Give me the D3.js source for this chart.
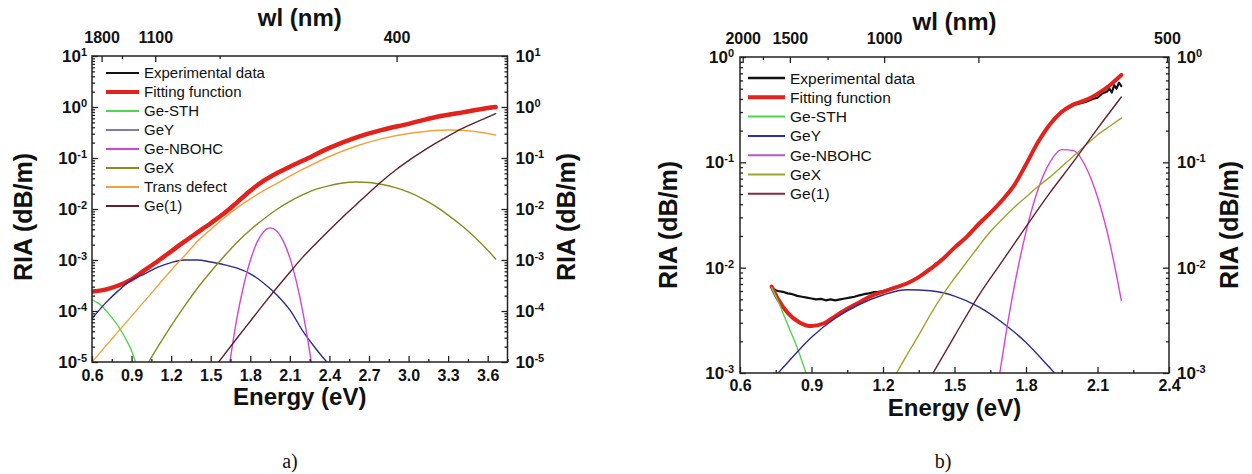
<!DOCTYPE html>
<html><head><meta charset="utf-8">
<script src="https://cdn.jsdelivr.net/npm/d3@7"></script>
<style>
body{margin:0;background:#fff;}
svg{display:block;font-family:"Liberation Sans",Arial,sans-serif;}
</style>
</head><body>
<svg id="c" width="1252" height="474"></svg>
<script>
// ---------------- Panel a) data ----------------
const energyA_exp = [0.6,0.7,0.8,0.9,1.0,1.1,1.2,1.3,1.4,1.5,1.6,1.7,1.8,1.9,2.0,2.1,2.2,2.4,2.6,2.8,3.0,3.2,3.3,3.4,3.45,3.5,3.55,3.6,3.62,3.64,3.66];
const riaA_exp = [2.35e-4,2.60e-4,3.20e-4,4.10e-4,6.40e-4,9.40e-4,1.50e-3,2.27e-3,3.50e-3,5.20e-3,8.20e-3,1.34e-2,2.31e-2,3.52e-2,5.05e-2,6.70e-2,8.95e-2,0.160,0.250,0.360,0.472,0.640,0.700,0.790,0.830,0.890,0.880,0.970,0.920,1.000,0.960];
const energyA_fit = [0.6,0.7,0.8,0.9,1.0,1.1,1.2,1.3,1.4,1.5,1.6,1.7,1.8,1.9,2.0,2.1,2.2,2.4,2.6,2.8,3.0,3.2,3.4,3.6,3.66];
const riaA_fit = [2.40e-4,2.63e-4,3.16e-4,4.17e-4,6.31e-4,9.55e-4,1.48e-3,2.29e-3,3.47e-3,5.25e-3,8.13e-3,1.35e-2,2.29e-2,3.55e-2,5.01e-2,6.76e-2,8.91e-2,0.158,0.251,0.355,0.468,0.631,0.776,0.955,1.0];
const energyA_sth = [0.6,0.65,0.7,0.75,0.8,0.85,0.9,0.93];
const riaA_sth = [1.66e-4,1.41e-4,1.07e-4,7.41e-5,5.01e-5,3.02e-5,1.66e-5,1.00e-5];
const energyA_gey = [0.6,0.7,0.8,0.9,1.0,1.1,1.2,1.3,1.4,1.5,1.6,1.7,1.8,1.9,2.0,2.1,2.2,2.3,2.38];
const riaA_gey = [7.08e-5,1.41e-4,2.51e-4,4.07e-4,5.37e-4,7.24e-4,8.91e-4,1.00e-3,1.00e-3,9.12e-4,8.13e-4,6.92e-4,5.37e-4,3.55e-4,2.09e-4,1.05e-4,3.98e-5,1.78e-5,1.00e-5];
const energyA_nbohc = [1.645,1.70,1.75,1.80,1.85,1.90,1.95,2.00,2.05,2.10,2.15,2.20,2.25,2.262];
const riaA_nbohc = [1.00e-5,7.59e-5,3.16e-4,9.77e-4,2.19e-3,3.55e-3,4.27e-3,3.72e-3,2.34e-3,1.10e-3,3.72e-4,9.12e-5,1.62e-5,1.00e-5];
const energyA_gex = [1.03,1.1,1.2,1.3,1.4,1.5,1.6,1.7,1.8,1.9,2.0,2.1,2.2,2.3,2.4,2.5,2.6,2.7,2.8,2.9,3.0,3.1,3.2,3.3,3.4,3.5,3.6,3.66];
const riaA_gex = [1.00e-5,2.00e-5,5.13e-5,1.23e-4,2.82e-4,5.89e-4,1.17e-3,2.24e-3,3.89e-3,6.31e-3,9.77e-3,1.41e-2,1.91e-2,2.45e-2,2.88e-2,3.24e-2,3.39e-2,3.31e-2,3.02e-2,2.63e-2,2.14e-2,1.62e-2,1.15e-2,7.59e-3,4.79e-3,2.82e-3,1.55e-3,1.05e-3];
const energyA_trans = [0.6,0.7,0.8,0.9,1.0,1.1,1.2,1.3,1.4,1.5,1.6,1.7,1.8,2.0,2.2,2.4,2.6,2.8,3.0,3.2,3.3,3.4,3.5,3.66];
const riaA_trans = [1.00e-5,2.00e-5,3.98e-5,7.94e-5,1.58e-4,3.16e-4,6.31e-4,1.20e-3,2.34e-3,3.98e-3,6.61e-3,1.05e-2,1.58e-2,3.16e-2,6.03e-2,0.107,0.170,0.240,0.302,0.347,0.355,0.351,0.331,0.282];
const energyA_ge1 = [1.56,1.7,1.8,1.9,2.0,2.1,2.2,2.3,2.4,2.5,2.6,2.7,2.8,2.9,3.0,3.1,3.2,3.3,3.4,3.5,3.6,3.66];
const riaA_ge1 = [1.00e-5,2.95e-5,6.31e-5,1.35e-4,2.82e-4,5.75e-4,1.15e-3,2.14e-3,3.89e-3,6.92e-3,1.20e-2,2.09e-2,3.55e-2,5.75e-2,8.91e-2,0.132,0.191,0.269,0.372,0.490,0.631,0.741];

const energyTicksA = [0.6,0.9,1.2,1.5,1.8,2.1,2.4,2.7,3.0,3.3,3.6];
const energyMinorA = [0.75,1.05,1.35,1.65,1.95,2.25,2.55,2.85,3.15,3.45,3.75];
const wlTicksA = [1800,1100,400];
const wlMinorA = [1450,750];
const riaTicksA = [1e-5,1e-4,1e-3,1e-2,1e-1,1,10];
const riaExpA = [-5,-4,-3,-2,-1,0,1];

// ---------------- Panel b) data ----------------
const energyB_exp = [0.733,0.74,0.75,0.76,0.78,0.80,0.82,0.84,0.86,0.88,0.90,0.92,0.94,0.96,0.98,1.00,1.02,1.04,1.06,1.08,1.10,1.12,1.14,1.16,1.18,1.20,1.25,1.30,1.35,1.40,1.45,1.50,1.55,1.60,1.65,1.70,1.75,1.80,1.85,1.90,1.95,2.00,2.03,2.05,2.08,2.10,2.12,2.14,2.15,2.16,2.17,2.18,2.19,2.20];
const riaB_exp = [6.6e-3,6.3e-3,6.1e-3,6.0e-3,5.9e-3,5.7e-3,5.6e-3,5.4e-3,5.3e-3,5.2e-3,5.1e-3,5.0e-3,5.05e-3,4.9e-3,5.0e-3,4.9e-3,5.0e-3,5.1e-3,5.2e-3,5.3e-3,5.45e-3,5.6e-3,5.7e-3,5.85e-3,5.9e-3,6.0e-3,6.5e-3,7.1e-3,8.1e-3,9.9e-3,1.22e-2,1.55e-2,1.93e-2,2.57e-2,3.30e-2,4.35e-2,6.0e-2,9.5e-2,0.155,0.228,0.300,0.350,0.365,0.375,0.40,0.41,0.45,0.47,0.50,0.46,0.54,0.50,0.57,0.53];
const energyB_fit = [0.733,0.76,0.8,0.85,0.9,0.95,1.0,1.05,1.1,1.15,1.2,1.25,1.3,1.35,1.4,1.45,1.5,1.55,1.6,1.65,1.7,1.75,1.8,1.85,1.9,1.95,2.0,2.05,2.1,2.15,2.2];
const riaB_fit = [6.61e-3,5.01e-3,3.72e-3,3.02e-3,2.79e-3,2.95e-3,3.47e-3,4.07e-3,4.68e-3,5.37e-3,5.89e-3,6.46e-3,7.08e-3,8.13e-3,9.77e-3,1.20e-2,1.55e-2,1.95e-2,2.57e-2,3.31e-2,4.37e-2,6.03e-2,9.55e-2,0.155,0.229,0.302,0.355,0.389,0.447,0.537,0.676];
const energyB_sth = [0.733,0.76,0.8,0.84,0.877];
const riaB_sth = [6.46e-3,4.79e-3,2.88e-3,1.74e-3,1.00e-3];
const energyB_gey = [0.76,0.8,0.9,1.0,1.1,1.2,1.3,1.4,1.5,1.6,1.7,1.8,1.9,1.92];
const riaB_gey = [1.00e-3,1.26e-3,2.19e-3,3.31e-3,4.47e-3,5.50e-3,6.17e-3,6.03e-3,5.37e-3,4.27e-3,3.02e-3,1.95e-3,1.12e-3,1.00e-3];
const energyB_nbohc = [1.69,1.72,1.75,1.8,1.85,1.9,1.95,2.0,2.05,2.1,2.15,2.2];
const riaB_nbohc = [1.00e-3,2.69e-3,6.46e-3,2.19e-2,5.50e-2,0.100,0.132,0.129,9.12e-2,4.68e-2,1.78e-2,4.90e-3];
const energyB_gex = [1.257,1.3,1.35,1.4,1.45,1.5,1.55,1.6,1.65,1.7,1.75,1.8,1.85,1.9,1.95,2.0,2.05,2.1,2.15,2.2];
const riaB_gex = [1.00e-3,1.48e-3,2.29e-3,3.63e-3,5.50e-3,7.94e-3,1.12e-2,1.58e-2,2.19e-2,2.88e-2,3.72e-2,4.68e-2,5.89e-2,7.24e-2,9.12e-2,0.115,0.145,0.182,0.219,0.263];
const energyB_ge1 = [1.41,1.5,1.6,1.7,1.8,1.9,2.0,2.1,2.2];
const riaB_ge1 = [1.00e-3,2.24e-3,5.37e-3,1.15e-2,2.45e-2,5.13e-2,0.102,0.209,0.417];

const energyTicksB = [0.6,0.9,1.2,1.5,1.8,2.1,2.4];
const energyMinorB = [0.75,1.05,1.35,1.65,1.95,2.25];
const wlTicksB = [2000,1500,1000,500];
const wlMinorB = [1750,1250];
const wlUnlabeledB = [750];
const riaTicksB = [1e-3,1e-2,1e-1,1];
const riaExpB = [-3,-2,-1,0];

// ---------------- Legends ----------------
const legendA = ["Experimental data","Fitting function","Ge-STH","GeY","Ge-NBOHC","GeX","Trans defect","Ge(1)"];
const legendB = ["Experimental data","Fitting function","Ge-STH","GeY","Ge-NBOHC","GeX","Ge(1)"];

const C = {
  exp:"#111111", fit:"#e3231b", sth:"#4fd64f", gey:"#2b2b90", geyLegA:"#7c7cb0",
  nbohc:"#d445d4", gexA:"#8a8a1e", gexB:"#a2a232", trans:"#f2a23c", ge1:"#62202a"
};

const svg = d3.select("#c");
const FONT = '"Liberation Sans", Arial, sans-serif';

function drawPanel(p){
  const g = svg.append("g");
  const x = d3.scaleLinear().domain(p.eDomain).range([p.x0, p.x1]);
  const y = d3.scaleLog().domain(p.yDomain).range([p.y1, p.y0]);
  const xt = d3.scaleLinear()
    .domain([(p.eDomain[0]-p.wlA)/p.wlC, (p.eDomain[1]-p.wlA)/p.wlC])
    .range([p.x0, p.x1]);

  const cid = "clip" + p.id;
  svg.append("clipPath").attr("id", cid).append("rect")
    .attr("x", p.x0).attr("y", p.y0).attr("width", p.x1 - p.x0).attr("height", p.y1 - p.y0);
  const plot = g.append("g").attr("clip-path", `url(#${cid})`);

  p.series.forEach(s => {
    const line = d3.line().x(d => x(d[0])).y(d => y(d[1]))
      .curve(s.linear ? d3.curveLinear : d3.curveMonotoneX);
    plot.append("path").datum(d3.zip(s.e, s.v))
      .attr("fill","none").attr("stroke", s.color).attr("stroke-width", s.w)
      .attr("stroke-linejoin","round").attr("stroke-linecap","round")
      .attr("d", line);
  });

  const style = sel => {
    sel.select(".domain").remove();
    sel.attr("font-family", FONT).attr("font-size", 16).attr("font-weight","bold");
    sel.selectAll("line").attr("stroke","#222").attr("stroke-width",1.3);
    sel.selectAll("text").attr("fill","#111");
  };

  // bottom axis
  g.append("g").attr("transform",`translate(0,${p.y1})`)
    .call(d3.axisBottom(x).tickValues(p.xMajor).tickFormat(d3.format(".1f")).tickSize(-6).tickSizeOuter(0).tickPadding(p.xPad))
    .call(style);
  g.append("g").attr("transform",`translate(0,${p.y1})`)
    .call(d3.axisBottom(x).tickValues(p.xMinor).tickFormat("").tickSize(-3).tickSizeOuter(0))
    .call(style);
  // top axis (wavelength)
  g.append("g").attr("transform",`translate(0,${p.y0})`)
    .call(d3.axisTop(xt).tickValues(p.wlMajor.map(w => 1/w)).tickFormat(u => String(Math.round(1/u))).tickSize(-6).tickSizeOuter(0).tickPadding(p.topPad))
    .call(style);
  g.append("g").attr("transform",`translate(0,${p.y0})`)
    .call(d3.axisTop(xt).tickValues(p.wlMinor.map(w => 1/w)).tickFormat("").tickSize(-3).tickSizeOuter(0))
    .call(style);
  if (p.wlExtra) {
    g.append("g").attr("transform",`translate(0,${p.y0})`)
      .call(d3.axisTop(xt).tickValues(p.wlExtra.map(w => 1/w)).tickFormat("").tickSize(-6).tickSizeOuter(0))
      .call(style);
  }
  // y axes
  const minor = y.ticks().filter(v => Math.abs(Math.log10(v) - Math.round(Math.log10(v))) > 1e-6);
  [[d3.axisLeft, p.x0], [d3.axisRight, p.x1]].forEach(([ax, xp]) => {
    g.append("g").attr("transform",`translate(${xp},0)`)
      .call(ax(y).tickValues(p.yMajor).tickFormat("").tickSize(-6).tickSizeOuter(0)).call(style);
    g.append("g").attr("transform",`translate(${xp},0)`)
      .call(ax(y).tickValues(minor).tickFormat("").tickSize(-3).tickSizeOuter(0)).call(style);
  });
  // y labels with superscripts
  const labs = (xp, anchor) => {
    const t = g.append("g").attr("font-family", FONT).attr("font-weight","bold").attr("fill","#111");
    p.yMajor.forEach((v, i) => {
      const tx = t.append("text").attr("x", xp).attr("y", y(v) + 6).attr("text-anchor", anchor);
      tx.append("tspan").attr("font-size",17).text("10");
      tx.append("tspan").attr("font-size",11).attr("dy",-6).text(p.yExp[i] < 0 ? "-" + (-p.yExp[i]) : String(p.yExp[i]));
    });
  };
  labs(p.x0 - p.yLabGapL, "end");
  labs(p.x1 + p.yLabGapR, "start");

  // frame
  g.append("rect").attr("x",p.x0).attr("y",p.y0).attr("width",p.x1-p.x0).attr("height",p.y1-p.y0)
    .attr("fill","none").attr("stroke","#222").attr("stroke-width",1.5);

  // titles
  const tt = g.append("g").attr("font-family", FONT).attr("font-weight","bold").attr("fill","#111").attr("font-size",24);
  tt.append("text").attr("x",(p.x0+p.x1)/2).attr("y",p.topTitleY).attr("text-anchor","middle").text("wl (nm)");
  tt.append("text").attr("x",(p.x0+p.x1)/2).attr("y",p.botTitleY).attr("text-anchor","middle").text("Energy (eV)");
  tt.append("text").attr("transform",`translate(${p.yTitleXL},${p.yTitleY}) rotate(-90)`).attr("text-anchor","middle").attr("font-size",25).text("RIA (dB/m)");
  tt.append("text").attr("transform",`translate(${p.yTitleXR},${p.yTitleY}) rotate(-90)`).attr("text-anchor","middle").attr("font-size",25).text("RIA (dB/m)");

  // legend
  const lg = g.append("g").attr("font-family", FONT).attr("font-size", p.legFont).attr("fill","#111");
  p.legend.forEach((name, i) => {
    const yy = p.legY0 + i * p.legDy;
    lg.append("line").attr("x1",p.legX0).attr("x2",p.legX1).attr("y1",yy).attr("y2",yy)
      .attr("stroke",p.legColors[i]).attr("stroke-width",p.legW[i]);
    lg.append("text").attr("x",p.legX1 + 5).attr("y",yy).attr("dy","0.36em").text(name);
  });

  // panel letter
  svg.append("text").attr("x",p.letterX).attr("y",468).attr("text-anchor","middle")
    .attr("font-family",'"Liberation Serif","Times New Roman",serif').attr("font-size",20).attr("fill","#111").text(p.letter);
}

drawPanel({
  id:"a", x0:92, x1:507.5, y0:56, y1:362, eDomain:[0.6,3.75], yDomain:[1e-5,10],
  wlA:0.034, wlC:1150, xMajor:energyTicksA, xMinor:energyMinorA, wlMajor:wlTicksA, wlMinor:wlMinorA,
  yMajor:riaTicksA, yExp:riaExpA, xPad:8, topPad:13, yLabGapL:5, yLabGapR:8,
  topTitleY:26, botTitleY:405, yTitleXL:32, yTitleXR:575, yTitleY:217,
  series:[
    {e:energyA_exp, v:riaA_exp, color:C.exp, w:2, linear:true},
    {e:energyA_fit, v:riaA_fit, color:C.fit, w:4.5},
    {e:energyA_sth, v:riaA_sth, color:C.sth, w:1.4},
    {e:energyA_gey, v:riaA_gey, color:C.gey, w:1.4},
    {e:energyA_nbohc, v:riaA_nbohc, color:C.nbohc, w:1.4},
    {e:energyA_gex, v:riaA_gex, color:C.gexA, w:1.4},
    {e:energyA_trans, v:riaA_trans, color:C.trans, w:1.4},
    {e:energyA_ge1, v:riaA_ge1, color:C.ge1, w:1.4}
  ],
  legend:legendA, legColors:[C.exp,C.fit,C.sth,C.geyLegA,C.nbohc,C.gexA,C.trans,C.ge1],
  legW:[2,4,2,2,2,2,2,2], legX0:106, legX1:139, legY0:73, legDy:19, legFont:15,
  letter:"a)", letterX:290
});

drawPanel({
  id:"b", x0:740, x1:1169, y0:57, y1:373, eDomain:[0.6,2.4], yDomain:[1e-3,1],
  wlA:0.018, wlC:1186.7, xMajor:energyTicksB, xMinor:energyMinorB, wlMajor:wlTicksB, wlMinor:wlMinorB, wlExtra:wlUnlabeledB,
  yMajor:riaTicksB, yExp:riaExpB, xPad:7, topPad:13, yLabGapL:6, yLabGapR:8,
  topTitleY:30, botTitleY:416, yTitleXL:677, yTitleXR:1238, yTitleY:225,
  series:[
    {e:energyB_exp, v:riaB_exp, color:C.exp, w:2.2, linear:true},
    {e:energyB_fit, v:riaB_fit, color:C.fit, w:4},
    {e:energyB_sth, v:riaB_sth, color:C.sth, w:1.4},
    {e:energyB_gey, v:riaB_gey, color:C.gey, w:1.4},
    {e:energyB_nbohc, v:riaB_nbohc, color:C.nbohc, w:1.4},
    {e:energyB_gex, v:riaB_gex, color:C.gexB, w:1.4},
    {e:energyB_ge1, v:riaB_ge1, color:C.ge1, w:1.4}
  ],
  legend:legendB, legColors:[C.exp,C.fit,C.sth,"#2d2db0","#b458c4",C.gexB,"#8a2a3a"],
  legW:[2.5,4,2,2,2,2,2], legX0:748, legX1:785, legY0:78, legDy:19.3, legFont:15.5,
  letter:"b)", letterX:943
});
</script>
</body></html>
